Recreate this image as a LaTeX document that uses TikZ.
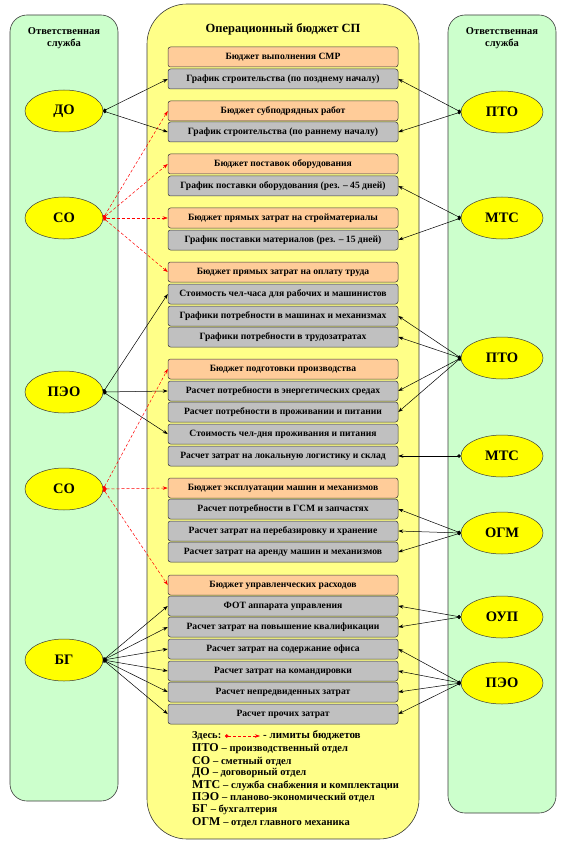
\documentclass[tikz,border=0pt]{standalone}
\usepackage{fontspec}
\setmainfont{Liberation Serif}
\usetikzlibrary{arrows.meta,shapes.geometric}
\definecolor{pgreen}{HTML}{CCFFCC}
\definecolor{pyellow}{HTML}{FFFF88}
\definecolor{eyellow}{HTML}{FFFF00}
\definecolor{borange}{HTML}{FFCC99}
\definecolor{bgray}{HTML}{C0C0C0}
\definecolor{edgec}{HTML}{3A3A3A}
\begin{document}
\begin{tikzpicture}[x=1pt,y=-1pt,
  panelg/.style={draw=edgec,fill=pgreen,rounded corners=17pt,line width=0.6pt},
  panely/.style={draw=edgec,fill=pyellow,rounded corners=40pt,line width=0.6pt},
  boxbase/.style={draw=edgec,rounded corners=2.5pt,minimum width=230pt,minimum height=20pt,inner sep=0pt,line width=0.5pt,font=\fontsize{9.6}{10}\selectfont\bfseries},
  obox/.style={boxbase,fill=borange},
  gbox/.style={boxbase,fill=bgray},
  ell/.style={ellipse,draw=edgec,fill=eyellow,minimum width=78pt,minimum height=42pt,inner sep=0pt,line width=0.5pt,font=\fontsize{14.5}{16}\selectfont\bfseries},
  ellr/.style={ell,minimum width=82pt},
  ttl/.style={font=\fontsize{10.5}{11.5}\selectfont\bfseries,align=center},
  conn/.style={draw=black,line width=0.5pt,{Circle[length=3.5pt]}-{Stealth[length=5pt,width=3.5pt]}},
  limit/.style={draw=red,dashed,dash pattern=on 3pt off 2pt,line width=0.5pt,{Circle[length=3.5pt]}-{Stealth[length=5pt,width=3.5pt]}},
  lgab/.style={anchor=west,inner sep=0pt,font=\bfseries}
]
\useasboundingbox (0,0) rectangle (564,850);
% panels
\draw[panelg] (10,15) rectangle (118,801);
\draw[panelg] (448,15) rectangle (556,813);
\draw[panely] (147,4) rectangle (419,839);
% titles
\node[ttl] (tl) at (64,38) {Ответственная\\служба};
\node[ttl] (tr) at (502,38) {Ответственная\\служба};
\node[font=\fontsize{12.5}{13}\selectfont\bfseries] (tm) at (283,29) {Операционный бюджет СП};
% boxes
\node[obox] (b1) at (283,57) {Бюджет выполнения СМР};
\node[gbox] (b2) at (283,79) {График строительства (по позднему началу)};
\node[obox] (b3) at (283,111) {Бюджет субподрядных работ};
\node[gbox] (b4) at (283,132) {График строительства (по раннему началу)};
\node[obox] (b5) at (283,164) {Бюджет поставок оборудования};
\node[gbox] (b6) at (283,186) {График поставки оборудования (рез. – 45 дней)};
\node[obox] (b7) at (283,218) {Бюджет прямых затрат на стройматериалы};
\node[gbox] (b8) at (283,240) {График поставки материалов (рез. – 15 дней)};
\node[obox] (b9) at (283,272) {Бюджет прямых затрат на оплату труда};
\node[gbox] (b10) at (283,294) {Стоимость чел-часа для рабочих и машинистов};
\node[gbox] (b11) at (283,316) {Графики потребности в машинах и механизмах};
\node[gbox] (b12) at (283,337) {Графики потребности в трудозатратах};
\node[obox] (b13) at (283,369) {Бюджет подготовки производства};
\node[gbox] (b14) at (283,391) {Расчет потребности в энергетических средах};
\node[gbox] (b15) at (283,412) {Расчет потребности в проживании и питании};
\node[gbox] (b16) at (283,434) {Стоимость чел-дня проживания и питания};
\node[gbox] (b17) at (283,456) {Расчет затрат на локальную логистику и склад};
\node[obox] (b18) at (283,488) {Бюджет эксплуатации машин и механизмов};
\node[gbox] (b19) at (283,509) {Расчет потребности в ГСМ и запчастях};
\node[gbox] (b20) at (283,531) {Расчет затрат на перебазировку и хранение};
\node[gbox] (b21) at (283,552) {Расчет затрат на аренду машин и механизмов};
\node[obox] (b22) at (283,585) {Бюджет управленческих расходов};
\node[gbox] (b23) at (283,606) {ФОТ аппарата управления};
\node[gbox] (b24) at (283,627) {Расчет затрат на повышение квалификации};
\node[gbox] (b25) at (283,649) {Расчет затрат на содержание офиса};
\node[gbox] (b26) at (283,671) {Расчет затрат на командировки};
\node[gbox] (b27) at (283,692) {Расчет непредвиденных затрат};
\node[gbox] (b28) at (283,714) {Расчет прочих затрат};
% ellipses left
\node[ell] (do) at (64,111) {ДО};
\node[ell] (soa) at (64,218) {СО};
\node[ell] (peol) at (64,392) {ПЭО};
\node[ell] (sob) at (64,489) {СО};
\node[ell] (bg) at (64,660) {БГ};
% ellipses right
\node[ellr] (ptoa) at (502,112) {ПТО};
\node[ellr] (mtsa) at (502,218) {МТС};
\node[ellr] (ptob) at (502,358) {ПТО};
\node[ellr] (mtsb) at (502,456) {МТС};
\node[ellr] (ogm) at (502,533) {ОГМ};
\node[ellr] (oup) at (502,617) {ОУП};
\node[ellr] (peor) at (502,683) {ПЭО};
% black connectors left
\foreach \t in {b2,b4} \draw[conn] (do.east) -- (\t.west);
\foreach \t in {b10,b14,b16} \draw[conn] (peol.east) -- (\t.west);
\foreach \t in {b23,b24,b25,b26,b27,b28} \draw[conn] (bg.east) -- (\t.west);
% black connectors right
\foreach \t in {b2,b4} \draw[conn] (ptoa.west) -- (\t.east);
\foreach \t in {b6,b8} \draw[conn] (mtsa.west) -- (\t.east);
\foreach \t in {b11,b12,b14,b15} \draw[conn] (ptob.west) -- (\t.east);
\draw[conn] (mtsb.west) -- (b17.east);
\foreach \t in {b19,b20,b21} \draw[conn] (ogm.west) -- (\t.east);
\foreach \t in {b23,b24} \draw[conn] (oup.west) -- (\t.east);
\foreach \t in {b25,b26,b27,b28} \draw[conn] (peor.west) -- (\t.east);
% limits
\foreach \t in {b3,b5,b7,b9} \draw[limit] (soa.east) -- (\t.west);
\foreach \t in {b13,b18,b22} \draw[limit] (sob.east) -- (\t.west);
% legend
\node[lgab,font=\fontsize{10.5}{11}\selectfont\bfseries] (lg0) at (192,736) {Здесь:};
\coordinate (lga) at (225,736);
\coordinate (lgb) at (260,736);
\draw[limit] (lga) -- (lgb);
\node[lgab,font=\fontsize{11}{12}\selectfont\bfseries] (lg0b) at (263,736) {- лимиты бюджетов};
\newcommand{\lgline}[4]{\node[lgab] (#1) at (192,#2) {\fontsize{12}{13}\selectfont #3 \fontsize{10.5}{11}\selectfont – #4};}
\lgline{lg1}{749}{ПТО}{производственный отдел}
\lgline{lg2}{761}{СО}{сметный отдел}
\lgline{lg3}{773}{ДО}{договорный отдел}
\lgline{lg4}{785.5}{МТС}{служба снабжения и комплектации}
\lgline{lg5}{797.5}{ПЭО}{планово-экономический отдел}
\lgline{lg6}{809.5}{БГ}{бухгалтерия}
\lgline{lg7}{822}{ОГМ}{отдел главного механика}
\end{tikzpicture}
\end{document}
